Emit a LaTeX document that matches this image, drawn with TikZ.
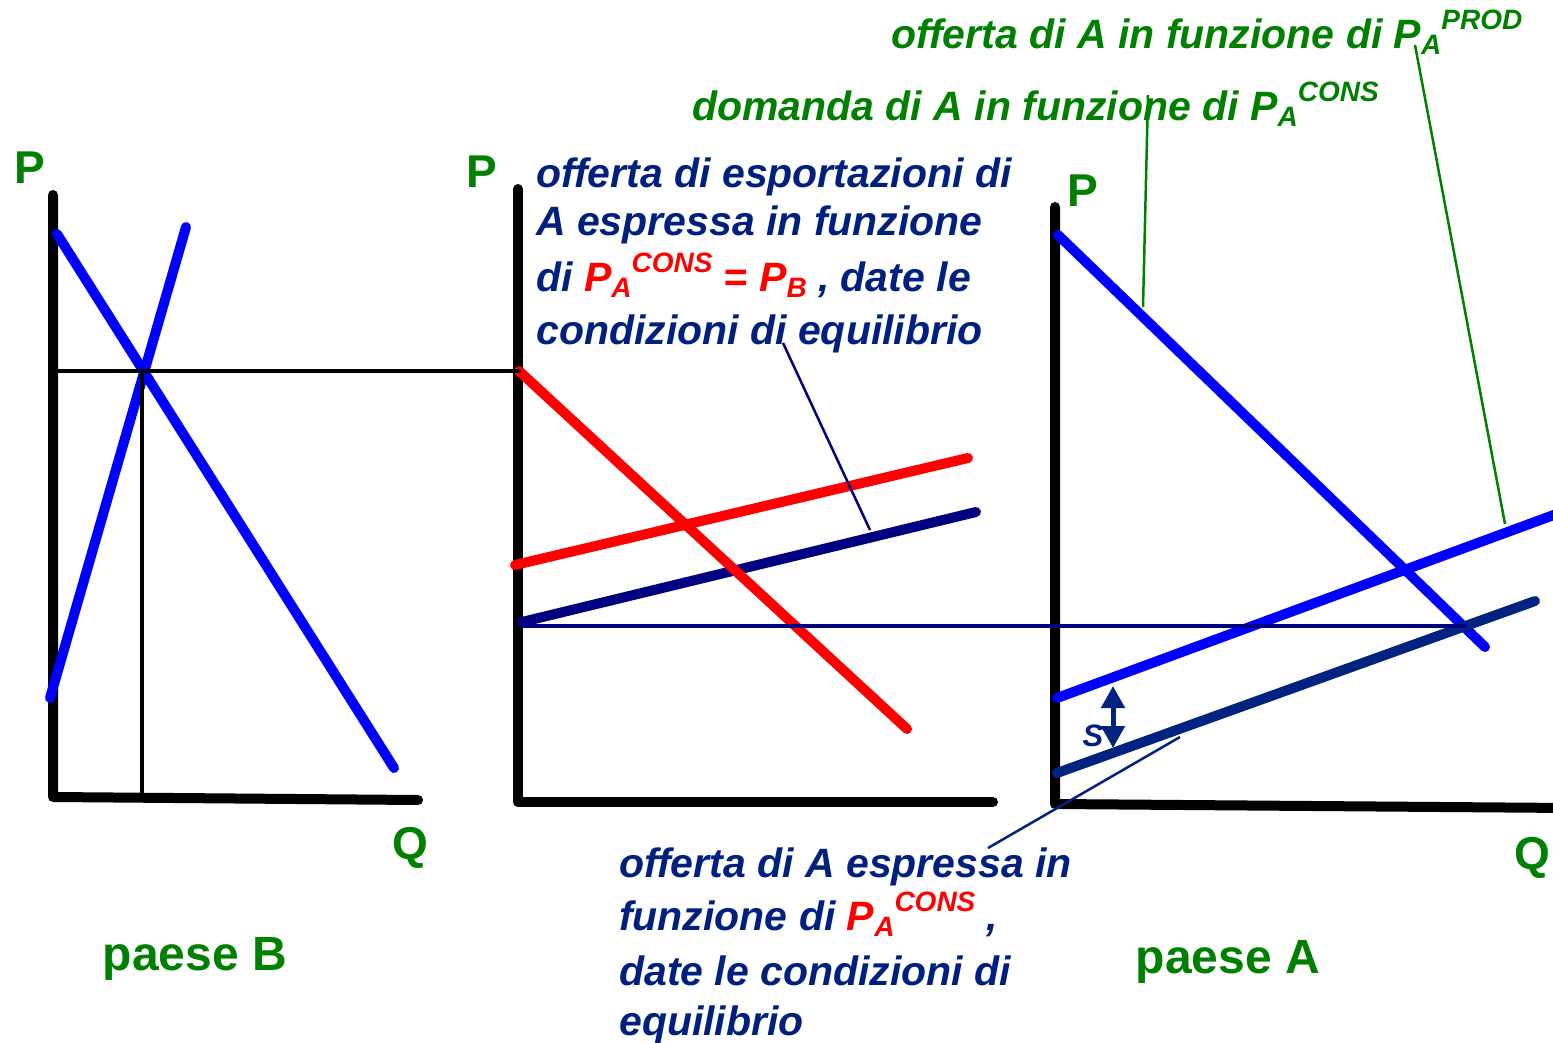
\documentclass[tikz,border=0pt]{standalone}
\usepackage{fontspec}
\setmainfont{Liberation Sans}
\usetikzlibrary{arrows.meta}
\definecolor{pgreen}{RGB}{0,128,0}
\definecolor{tnavy}{RGB}{0,32,128}
\definecolor{lnavy}{RGB}{0,0,128}
\definecolor{lnavyb}{RGB}{0,35,128}
\definecolor{pblue}{RGB}{0,0,255}
\definecolor{pred}{RGB}{255,0,0}
\newcommand\Lo[1]{\raisebox{-6pt}{\fontsize{28}{28}\selectfont #1}}
\newcommand\Hi[1]{\raisebox{19pt}{\fontsize{28}{28}\selectfont #1}}
\begin{document}
\begin{tikzpicture}[x=1pt,y=-1pt,
  axis/.style={line width=10pt, line cap=round, line join=round},
  curve/.style={line width=10pt, line cap=round},
  guide/.style={line width=3.5pt, line cap=round},
  callout/.style={line width=2.5pt},
  axlabel/.style={text=pgreen, font=\fontsize{46}{46}\selectfont\bfseries, inner sep=0},
  country/.style={text=pgreen, font=\fontsize{48}{48}\selectfont\bfseries, inner sep=0},
  note/.style={font=\fontsize{41}{53}\selectfont\bfseries\itshape, align=left, inner sep=0},
]
\useasboundingbox[fill=white] (0,0) rectangle (1553,1043);

% ---------- panel B ----------
\coordinate (bTop) at (53,195);
\coordinate (bO) at (53,797);
\coordinate (bRight) at (418,800);
\coordinate (bD1) at (57,234);
\coordinate (bD2) at (394,768);
\coordinate (bS1) at (50,698);
\coordinate (bS2) at (186,227);
\coordinate (bE) at (142,371);
\coordinate (bEy) at (58,371);
\coordinate (bEx) at (142,797);
\draw[axis] (bTop) -- (bO) -- (bRight);
\draw[curve, pblue] (bD1) -- (bD2);
\draw[curve, pblue] (bS1) -- (bS2);

% ---------- middle panel ----------
\coordinate (mTop) at (518,189);
\coordinate (mO) at (518,802);
\coordinate (mRight) at (993,802);
\coordinate (mD1) at (519,371);
\coordinate (mD2) at (907,729);
\coordinate (mS1) at (515,565);
\coordinate (mS2) at (968,458);
\coordinate (mN1) at (522,622);
\coordinate (mN2) at (976,512);
\draw[axis] (mTop) -- (mO) -- (mRight);
\draw[curve, lnavy] (mN1) -- (mN2);
\draw[curve, pred] (mS1) -- (mS2);
\draw[curve, pred] (mD1) -- (mD2);

% ---------- panel A ----------
\coordinate (aTop) at (1055,207);
\coordinate (aO) at (1055,804);
\coordinate (aRight) at (1570,808);
\coordinate (aD1) at (1058,235);
\coordinate (aD2) at (1485,647);
\coordinate (aS1) at (1057,698);
\coordinate (aS2) at (1570,509);
\coordinate (aN1) at (1057,773);
\coordinate (aN2) at (1535,601);
\coordinate (aE) at (1465,626);
\draw[axis] (aTop) -- (aO) -- (aRight);
\draw[curve, pblue] (aS1) -- (aS2);
\draw[curve, pblue] (aD1) -- (aD2);
\draw[curve, lnavyb] (aN1) -- (aN2);

% ---------- guide lines ----------
\draw[guide] (bEy) -- (mD1);
\draw[guide] (bE) -- (bEx);
\draw[guide, lnavy] (mN1 |- aE) -- (aE);

% ---------- subsidy arrow ----------
\coordinate (sTop) at (1113,686);
\coordinate (sBot) at (1113,748);
\draw[line width=5pt, lnavyb, {Triangle[length=22pt,width=23pt]}-{Triangle[length=22pt,width=23pt]}] (sTop) -- (sBot);
\node[text=lnavyb, font=\fontsize{31}{31}\selectfont\bfseries\itshape, inner sep=0] (sLab) at (1093,736) {S};

% ---------- axis labels ----------
\node[axlabel] (bP) at (30,168) {P};
\node[axlabel] (bQ) at (410,848) {Q};
\node[axlabel] (mP) at (482,172) {P};
\node[axlabel] (aP) at (1083,191) {P};
\node[axlabel] (aQ) at (1532,858) {Q};
\node[country] (bName) at (195,959) {paese B};
\node[country] (aName) at (1228,962) {paese A};

% ---------- texts ----------
\node[note, text=pgreen, anchor=base west] (offA) at (891,49)
  {offerta di A in funzione di P\Lo{A}\Hi{PROD}};
\node[note, text=pgreen, anchor=base west] (domA) at (692,121)
  {domanda di A in funzione di P\Lo{A}\Hi{CONS}};
\node[note, text=tnavy, anchor=north west] (expTxt) at (536,158)
  {offerta di esportazioni di\\[-5pt]
   A espressa in funzione\\[3pt]
   di \textcolor{pred}{P\Lo{A}\Hi{CONS} = P\Lo{B}} , date le\\
   condizioni di equilibrio};
\node[note, text=tnavy, anchor=north west] (offTxt) at (619,848)
  {offerta di A espressa in\\
   funzione di \textcolor{pred}{P\Lo{A}\Hi{CONS}} ,\\[2pt]
   date le condizioni di\\[-3pt]
   equilibrio};

% ---------- callouts ----------
\coordinate (c1a) at (1148,95);
\coordinate (c1b) at (1143,307);
\coordinate (c2a) at (1415,45);
\coordinate (c2b) at (1505,524);
\coordinate (c3a) at (783,343);
\coordinate (c3b) at (870,530);
\coordinate (c4a) at (988,848);
\coordinate (c4b) at (1180,737);
\draw[callout, pgreen] (c1a) -- (c1b);
\draw[callout, pgreen] (c2a) -- (c2b);
\draw[callout, lnavy] (c3a) -- (c3b);
\draw[callout, lnavyb] (c4a) -- (c4b);
\end{tikzpicture}
\end{document}
